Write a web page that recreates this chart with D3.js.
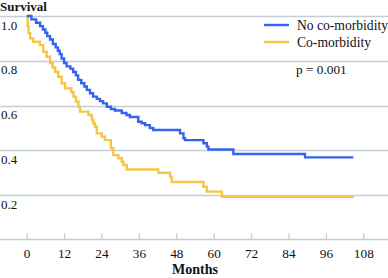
<!DOCTYPE html>
<html>
<head>
<meta charset="utf-8">
<script src="https://cdn.jsdelivr.net/npm/d3@7"></script>
<style>
  body { margin: 0; background: #fff; }
  text { font-family: "Liberation Serif", "DejaVu Serif", serif; fill: #111; }
</style>
</head>
<body>
<div id="chart"></div>
<script>
// Kaplan-Meier steps (months, survival)
const noComorbTime = [0, 1.5, 3.0, 4.3, 5.2, 6.0, 6.6, 7.5, 8.4, 9.3, 10.0, 10.6, 11.2, 12.0, 12.8, 14.0, 14.9, 15.8, 16.5, 17.5, 18.5, 19.3, 20.3, 21.3, 22.5, 23.5, 24.5, 25.7, 27.0, 28.3, 30.5, 32.0, 33.1, 35.8, 36.9, 38.0, 39.5, 40.6, 49.2, 50.3, 50.8, 56.7, 57.8, 58.3, 66.3, 89.3, 104.8];
const noComorbSurv = [1.0, 0.985, 0.97, 0.955, 0.94, 0.925, 0.91, 0.895, 0.875, 0.86, 0.845, 0.83, 0.81, 0.79, 0.775, 0.765, 0.75, 0.735, 0.715, 0.70, 0.685, 0.67, 0.655, 0.64, 0.63, 0.62, 0.61, 0.595, 0.585, 0.578, 0.567, 0.558, 0.549, 0.528, 0.521, 0.513, 0.50, 0.491, 0.476, 0.454, 0.446, 0.432, 0.417, 0.404, 0.384, 0.369, 0.369];

const comorbTime = [0, 0.3, 0.6, 1.1, 2.1, 4.2, 5.3, 6.4, 7.5, 8.3, 9.1, 10.1, 11.2, 12.3, 14.3, 15.0, 15.8, 16.6, 17.1, 19.8, 20.9, 21.4, 21.9, 22.5, 24.1, 25.1, 27.0, 27.8, 29.4, 30.5, 31.0, 32.1, 42.2, 46.0, 46.5, 56.7, 57.8, 62.6, 105];
const comorbSurv = [1.0, 0.955, 0.923, 0.90, 0.885, 0.87, 0.84, 0.818, 0.79, 0.77, 0.751, 0.729, 0.70, 0.677, 0.66, 0.64, 0.618, 0.595, 0.573, 0.558, 0.536, 0.52, 0.506, 0.476, 0.461, 0.446, 0.41, 0.379, 0.365, 0.35, 0.335, 0.315, 0.30, 0.282, 0.259, 0.238, 0.216, 0.193, 0.193];

const xTicks = [0, 12, 24, 36, 48, 60, 72, 84, 96, 108];
const yTicks = [0.2, 0.4, 0.6, 0.8, 1.0];
const seriesNames = ["No co-morbidity", "Co-morbidity"];
const seriesColors = ["#3562f0", "#f6c543"];
const pValueLabel = "p = 0.001";

const width = 388, height = 278;
const gridColor = "#c3cdd4";

const svg = d3.select("#chart")
    .append("svg")
    .attr("width", width)
    .attr("height", height);

const x = d3.scaleLinear().domain([0, 108]).range([26.7, 363.3]);
const y = d3.scaleLinear().domain([0, 1]).range([240, 16]);

// horizontal gridlines, full width
svg.append("g")
    .selectAll("line")
    .data(yTicks)
    .join("line")
    .attr("x1", 0)
    .attr("x2", width)
    .attr("y1", d => Math.round(y(d)) + 0.5)
    .attr("y2", d => Math.round(y(d)) + 0.5)
    .style("stroke", gridColor)
    .style("stroke-width", 1.3);

// y labels sit under their gridline
svg.append("g")
    .selectAll("text")
    .data(yTicks)
    .join("text")
    .attr("x", 1)
    .attr("y", d => y(d) + 13.5)
    .attr("font-size", 13)
    .text(d => d3.format(".1f")(d));

svg.append("text")
    .attr("x", 0)
    .attr("y", 11)
    .attr("font-size", 13)
    .attr("font-weight", "bold")
    .text("Survival");

// x axis
const xAxis = svg.append("g")
    .attr("transform", "translate(0, 239.5)")
    .call(d3.axisBottom(x).tickValues(xTicks).tickSize(-6).tickPadding(9.5));
xAxis.select(".domain").remove();
xAxis.selectAll(".tick line").style("stroke", gridColor).style("stroke-width", 1.3);
xAxis.selectAll(".tick text")
    .attr("font-size", 13.3)
    .style("fill", "#111");

svg.append("line")
    .attr("x1", 0)
    .attr("x2", width)
    .attr("y1", 239.5)
    .attr("y2", 239.5)
    .style("stroke", gridColor)
    .style("stroke-width", 1.3);

svg.append("text")
    .attr("x", x(54))
    .attr("y", 274)
    .attr("text-anchor", "middle")
    .attr("font-size", 14)
    .attr("font-weight", "bold")
    .text("Months");

// curves
const line = d3.line()
    .x(d => x(d[0]))
    .y(d => y(d[1]))
    .curve(d3.curveStepAfter);

const series = [
    d3.zip(noComorbTime, noComorbSurv),
    d3.zip(comorbTime, comorbSurv)
];

// draw co-morbidity first so the blue sits on top
[1, 0].forEach(function(i) {
    svg.append("path")
        .datum(series[i])
        .attr("d", line)
        .style("fill", "none")
        .style("stroke", seriesColors[i])
        .style("stroke-width", 2.4);
});

// legend
const legend = svg.append("g").attr("transform", "translate(264, 25)");
seriesNames.forEach(function(name, i) {
    legend.append("line")
        .attr("x1", 0)
        .attr("x2", 25)
        .attr("y1", i * 17)
        .attr("y2", i * 17)
        .style("stroke", seriesColors[i])
        .style("stroke-width", 2.4);
    legend.append("text")
        .attr("x", 33)
        .attr("y", i * 17 + 4.5)
        .attr("font-size", 13.6)
        .text(name);
});

svg.append("text")
    .attr("x", 296)
    .attr("y", 73.5)
    .attr("font-size", 13.3)
    .text(pValueLabel);
</script>
</body>
</html>
